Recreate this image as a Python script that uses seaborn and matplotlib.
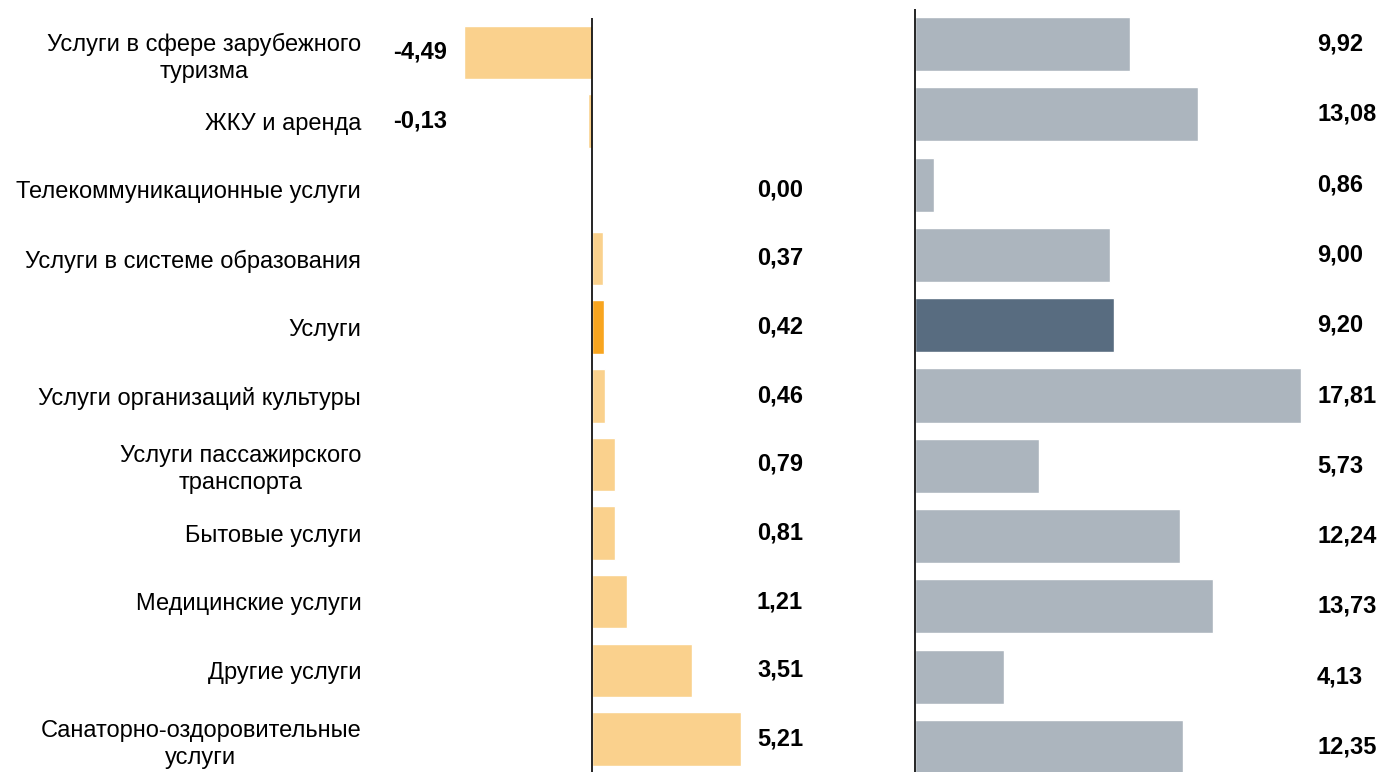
import pandas as pd
import matplotlib.pyplot as plt
import seaborn as sns

categories = [
    'Услуги в сфере зарубежного\nтуризма',
    'ЖКУ и аренда',
    'Телекоммуникационные услуги',
    'Услуги в системе образования',
    'Услуги',
    'Услуги организаций культуры',
    'Услуги пассажирского\nтранспорта',
    'Бытовые услуги',
    'Медицинские услуги',
    'Другие услуги',
    'Санаторно-оздоровительные\nуслуги',
]
left_values = [-4.49, -0.13, 0.00, 0.37, 0.42, 0.46, 0.79, 0.81, 1.21, 3.51, 5.21]
right_values = [9.92, 13.08, 0.86, 9.00, 9.20, 17.81, 5.73, 12.24, 13.73, 4.13, 12.35]
highlight = 'Услуги'

sns.set_theme(style='white')
plt.rcParams['font.family'] = ['Liberation Sans', 'DejaVu Sans']

df = pd.DataFrame({'cat': categories, 'left': left_values, 'right': right_values})

left_colors = ['#F8A51F' if c == highlight else '#FAD18D' for c in categories]
right_colors = ['#586C80' if c == highlight else '#ACB5BE' for c in categories]

W, H = 1379, 772
fig = plt.figure(figsize=(W / 100, H / 100), dpi=100)
ax1 = fig.add_axes([380 / W, 0, 520 / W, 1])
ax2 = fig.add_axes([900 / W, 0, 479 / W, 1])

sns.barplot(data=df, x='left', y='cat', hue='cat', palette=left_colors, saturation=1,
            legend=False, width=0.78, ax=ax1, orient='h')
sns.barplot(data=df, x='right', y='cat', hue='cat', palette=right_colors, saturation=1,
            legend=False, width=0.77, ax=ax2, orient='h')

# left panel: 28.6 px per unit, zero line at x=592
ax1.set_xlim(-(592 - 380) / 28.6, (900 - 592) / 28.6)
ax1.set_ylim((772 - 52.5) / 68.65, -52.5 / 68.65)
ax1.vlines(0, -0.5, (772 - 52.5) / 68.65, color='black', lw=1.2)

# right panel: 21.67 px per unit, zero line at x=915
ax2.set_xlim(-15 / 21.67, 464 / 21.67)
ax2.set_ylim((772 - 44) / 70.3, -44 / 70.3)
ax2.vlines(0, -0.5, (772 - 44) / 70.3, color='black', lw=1.2)

for ax in (ax1, ax2):
    for s in ax.spines.values():
        s.set_visible(False)
    ax.set_xticks([])
    ax.set_xlabel('')
    ax.set_ylabel('')

ax2.set_yticks([])
ax1.tick_params(axis='y', length=0, pad=13.5, labelsize=17, labelcolor='black')
for lab in ax1.get_yticklabels():
    lab.set_multialignment('center')
    lab.set_linespacing(1.3)

fmt = lambda v: f'{v:.2f}'.replace('.', ',')
tr1 = ax1.get_yaxis_transform()
for i, v in enumerate(left_values):
    xpos = 0.025 if v < 0 else 0.725
    ax1.text(xpos, i, fmt(v), transform=tr1, ha='left', va='center',
             fontsize=17, fontweight='bold', color='black')

tr2 = ax2.get_yaxis_transform()
for i, v in enumerate(right_values):
    ax2.text(0.8706, i, fmt(v), transform=tr2, ha='left', va='center',
             fontsize=17, fontweight='bold', color='black')

fig.savefig('out.png', dpi=100)
